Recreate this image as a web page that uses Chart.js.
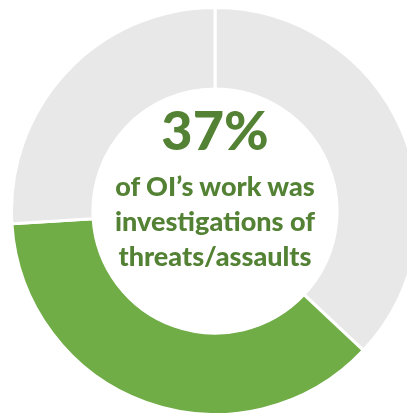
<!DOCTYPE html>
<html>
<head>
<meta charset="utf-8">
<script src="https://cdn.jsdelivr.net/npm/chart.js@4/dist/chart.umd.min.js"></script>
<style>
  html, body { margin: 0; padding: 0; background: #fff; }
  #wrap { position: relative; width: 407px; height: 413px; overflow: hidden; }
  #donut { position: absolute; left: 10px; top: 6px; }
  .center { position: absolute; left: 0; width: 430px; text-align: center;
            font-family: Lato, "Open Sans", sans-serif; font-weight: 900; color: #548235; }
  #big { top: 103px; font-size: 54px; line-height: 54px; }
  #sub { top: 168px; font-size: 27px; line-height: 35px; }
</style>
</head>
<body>
<div id="wrap">
  <canvas id="donut" width="410" height="410"></canvas>
  <div class="center" id="big">37%</div>
  <div class="center" id="sub">of OI’s work was<br>investigations of<br>threats/assaults</div>
</div>
<script>
// share of OI's work (percent)
const labels = ['Other work', 'Threats/assaults', 'Other investigations'];
const shares = [37, 37, 26];
const colours = ['#E8E8E8', '#70AD47', '#E8E8E8'];

const ctx = document.getElementById('donut').getContext('2d');
const donutChart = new Chart(ctx, {
  type: 'doughnut',
  data: {
    labels: labels,
    datasets: [{
      data: shares,
      backgroundColor: colours,
      borderColor: '#ffffff',
      borderWidth: 3
    }]
  },
  options: {
    responsive: false,
    animation: false,
    cutout: '60%',
    layout: { padding: 0 },
    plugins: {
      legend: { display: false },
      tooltip: { enabled: false }
    }
  }
});
</script>
</body>
</html>
